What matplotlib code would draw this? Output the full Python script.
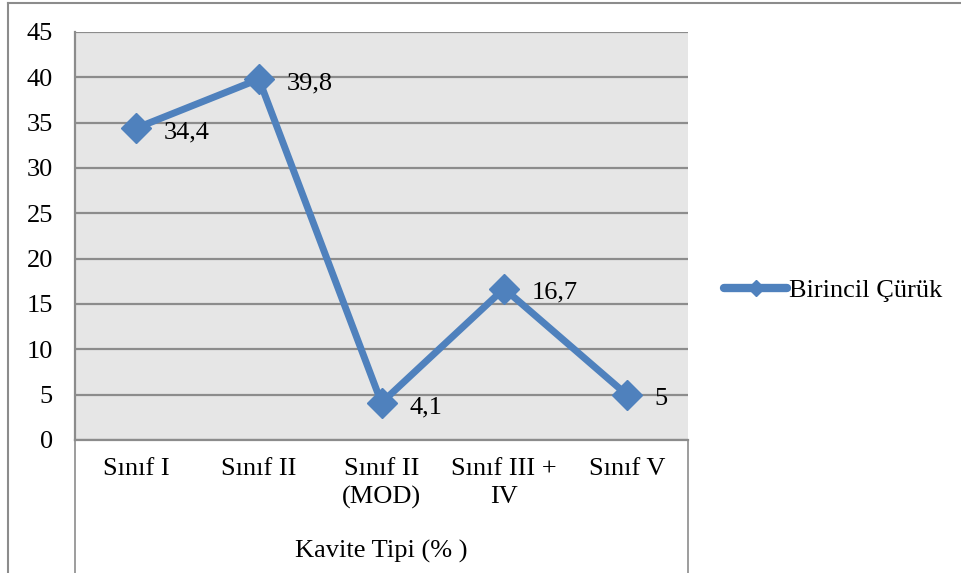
import matplotlib.pyplot as plt
from matplotlib.lines import Line2D

# Data
categories = ["Sınıf I", "Sınıf II", "Sınıf II\n(MOD)", "Sınıf III +\nIV", "Sınıf V"]
values = [34.4, 39.8, 4.1, 16.7, 5]
value_labels = ["34,4", "39,8", "4,1", "16,7", "5"]
series_name = "Birincil Çürük"
x_title = "Kavite Tipi (% )"

plt.rcParams['font.family'] = ['Liberation Serif', 'DejaVu Serif']
plt.rcParams['font.size'] = 19

blue = '#4f81bd'
grid_col = '#8c8c8c'

fig = plt.figure(figsize=(9.61, 5.73), dpi=100)
ax = fig.add_axes([75 / 961, 1 - 440 / 573, 613 / 961, 408 / 573])
ax.set_facecolor('#e6e6e6')

xs = [i + 0.5 for i in range(len(values))]
ax.plot(xs, values, color=blue, linewidth=5, marker='D', markersize=15,
        solid_joinstyle='miter')

for x, v, lab in zip(xs, values, value_labels):
    ax.annotate(lab, (x, v), xytext=(20, -3), textcoords='offset points',
                ha='left', va='center')

ax.set_xlim(0, 5)
ax.set_ylim(0, 45)
ax.set_yticks(range(0, 50, 5))
ax.set_xticks(xs)
ax.set_xticklabels(categories, linespacing=1.35)
ax.tick_params(axis='both', length=0)
ax.tick_params(axis='y', pad=16)
ax.tick_params(axis='x', pad=13)
ax.yaxis.grid(True, color=grid_col, linewidth=1.6)
ax.set_axisbelow(True)
ax.set_xlabel(x_title, labelpad=22)

for s in ['top', 'right']:
    ax.spines[s].set_visible(False)
ax.spines['left'].set_color(grid_col)
ax.spines['bottom'].set_color(grid_col)
ax.spines['left'].set_linewidth(1.6)
ax.spines['bottom'].set_linewidth(1.6)

# category axis box lines and outer chart border
for xpix in (75, 688):
    fig.add_artist(Line2D([xpix / 961, xpix / 961], [0, 1 - 440 / 573],
                          color=grid_col, linewidth=1.2))
fig.add_artist(Line2D([8 / 961, 8 / 961], [0, 1 - 3 / 573], color=grid_col, linewidth=1.5))
fig.add_artist(Line2D([8 / 961, 1], [1 - 3 / 573, 1 - 3 / 573], color=grid_col, linewidth=1.5))

handle = Line2D([], [], color=blue, linewidth=6, marker='D', markersize=8,
                solid_capstyle='round')
ax.legend([handle], [series_name], loc='center left',
          bbox_to_anchor=(724 / 961, 1 - 290 / 573),
          bbox_transform=fig.transFigure, frameon=False, handlelength=2.4,
          handletextpad=0.05, borderpad=0, borderaxespad=0)

fig.savefig('out.png', dpi=100)
